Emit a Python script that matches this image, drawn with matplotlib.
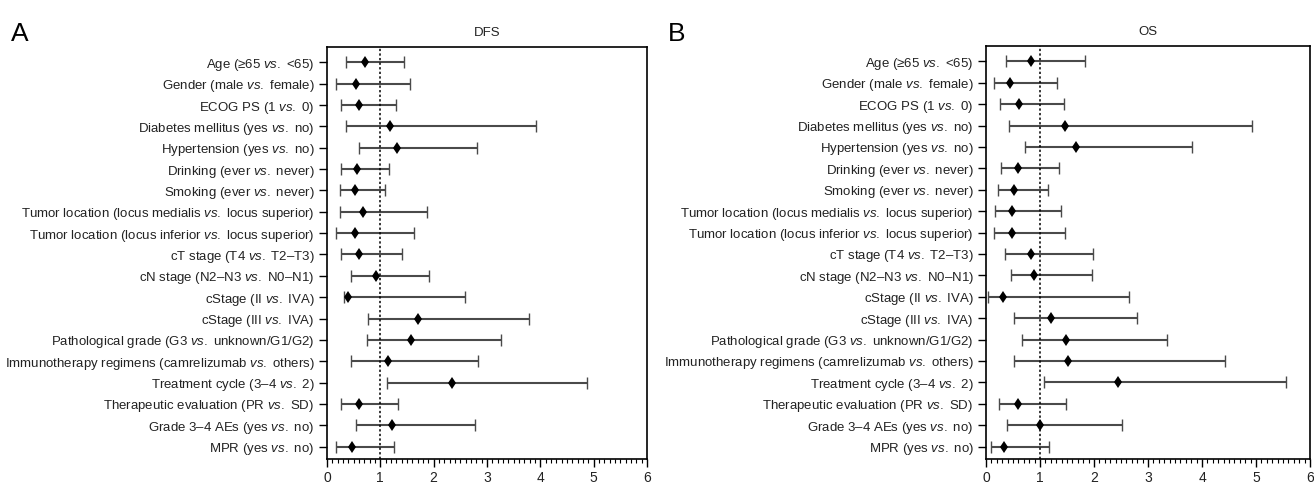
import matplotlib
matplotlib.use('Agg')
import matplotlib.pyplot as plt
from matplotlib.ticker import MultipleLocator

plt.rcParams['font.family'] = ['Liberation Sans', 'DejaVu Sans']
plt.rcParams['mathtext.fontset'] = 'custom'
plt.rcParams['mathtext.rm'] = 'Liberation Sans'
plt.rcParams['mathtext.it'] = 'Liberation Sans:italic'

labels = [
    r'Age (≥65 $\mathit{vs.}$ <65)',
    r'Gender (male $\mathit{vs.}$ female)',
    r'ECOG PS (1 $\mathit{vs.}$ 0)',
    r'Diabetes mellitus (yes $\mathit{vs.}$ no)',
    r'Hypertension (yes $\mathit{vs.}$ no)',
    r'Drinking (ever $\mathit{vs.}$ never)',
    r'Smoking (ever $\mathit{vs.}$ never)',
    r'Tumor location (locus medialis $\mathit{vs.}$ locus superior)',
    r'Tumor location (locus inferior $\mathit{vs.}$ locus superior)',
    r'cT stage (T4 $\mathit{vs.}$ T2–T3)',
    r'cN stage (N2–N3 $\mathit{vs.}$ N0–N1)',
    r'cStage (II $\mathit{vs.}$ IVA)',
    r'cStage (III $\mathit{vs.}$ IVA)',
    r'Pathological grade (G3 $\mathit{vs.}$ unknown/G1/G2)',
    r'Immunotherapy regimens (camrelizumab $\mathit{vs.}$ others)',
    r'Treatment cycle (3–4 $\mathit{vs.}$ 2)',
    r'Therapeutic evaluation (PR $\mathit{vs.}$ SD)',
    r'Grade 3–4 AEs (yes $\mathit{vs.}$ no)',
    r'MPR (yes $\mathit{vs.}$ no)',
]

dfs_hr = [0.71, 0.54, 0.60, 1.18, 1.31, 0.56, 0.52, 0.68, 0.52, 0.61,
          0.925, 0.39, 1.71, 1.58, 1.14, 2.34, 0.60, 1.225, 0.475]
dfs_lo = [0.35, 0.175, 0.27, 0.35, 0.61, 0.27, 0.24, 0.24, 0.175, 0.26,
          0.45, 0.32, 0.77, 0.76, 0.46, 1.125, 0.27, 0.54, 0.175]
dfs_hi = [1.44, 1.56, 1.29, 3.92, 2.81, 1.17, 1.09, 1.87, 1.64, 1.40,
          1.91, 2.59, 3.78, 3.26, 2.83, 4.875, 1.33, 2.77, 1.26]

os_hr = [0.83, 0.44, 0.61, 1.46, 1.67, 0.60, 0.51, 0.475, 0.475, 0.84,
         0.89, 0.32, 1.20, 1.49, 1.51, 2.45, 0.60, 1.0, 0.34]
os_lo = [0.37, 0.14, 0.26, 0.42, 0.73, 0.27, 0.22, 0.16, 0.14, 0.35,
         0.46, 0.03, 0.51, 0.66, 0.51, 1.07, 0.24, 0.39, 0.09]
os_hi = [1.84, 1.32, 1.44, 4.93, 3.81, 1.36, 1.15, 1.38, 1.47, 1.99,
         1.96, 2.64, 2.80, 3.35, 4.42, 5.56, 1.475, 2.52, 1.17]

n = len(labels)
ypos = list(range(n, 0, -1))

fig = plt.figure(figsize=(13.14, 4.86), dpi=100)
ax1 = fig.add_axes([0.2488, 0.0556, 0.2436, 0.8477])
ax2 = fig.add_axes([0.7504, 0.0556, 0.2466, 0.8500])


def forest(ax, hr, lo, hi, title):
    xerr = [[h - l for h, l in zip(hr, lo)], [u - h for h, u in zip(hr, hi)]]
    ax.errorbar(hr, ypos, xerr=xerr, fmt='none', ecolor='#4a4a4a',
                elinewidth=1.5, capsize=4.5, capthick=1.0)
    ax.plot(hr, ypos, 'd', color='black', markersize=6.3, markeredgewidth=0)
    ax.axvline(1, color='black', linestyle=(0, (1.5, 1.5)), linewidth=1.1)
    ax.set_xlim(0, 6)
    ax.set_ylim(0.42, n + 0.72)
    ax.set_yticks(ypos)
    ax.set_yticklabels(labels, fontsize=9.5, color='#222222')
    ax.xaxis.set_major_locator(MultipleLocator(1))
    ax.xaxis.set_minor_locator(MultipleLocator(0.1))
    ax.tick_params(axis='x', which='major', length=6, width=1.0, pad=3,
                   labelsize=10, labelcolor='#222222')
    ax.tick_params(axis='x', which='minor', length=3, width=0.8)
    ax.tick_params(axis='y', length=6, width=1.0, pad=3)
    for s in ax.spines.values():
        s.set_linewidth(1.2)
    ax.set_title(title, fontsize=9.5, color='#222222', pad=8)


forest(ax1, dfs_hr, dfs_lo, dfs_hi, 'DFS')
forest(ax2, os_hr, os_lo, os_hi, 'OS')

fig.text(0.008, 0.915, 'A', fontsize=19)
fig.text(0.508, 0.915, 'B', fontsize=19)

fig.savefig('out.png', dpi=100)
